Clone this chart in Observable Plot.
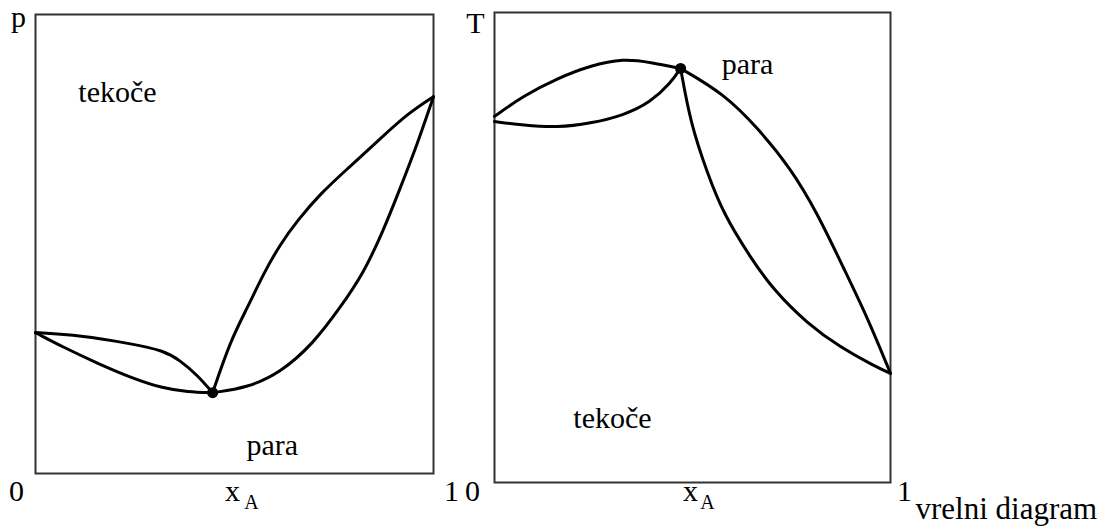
<!DOCTYPE html>
<html>
<head>
<meta charset="utf-8">
<script src="https://cdn.jsdelivr.net/npm/d3@7"></script>
<script src="https://cdn.jsdelivr.net/npm/@observablehq/plot@0.6"></script>
<style>
  body { margin: 0; background: #fff; }
  #chart { position: relative; width: 1106px; height: 526px; }
  #chart svg { position: absolute; top: 0; }
</style>
</head>
<body>
<div id="chart"></div>
<script>
// ---- p–x diagram (left): pressure vs mole fraction x_A, minimum-pressure azeotrope ----
// [x_A, p] pairs on a relative 0–100 pressure scale
const pBubbleA = [[0, 30.7], [0.113, 30.1], [0.239, 28.3], [0.322, 26.8], [0.364, 24.6], [0.407, 21.4], [0.445, 17.6]];
const pDewA    = [[0, 30.7], [0.070, 27.5], [0.156, 24.0], [0.239, 20.9], [0.322, 18.5], [0.382, 17.8], [0.445, 17.6]];
const pBubbleB = [[0.445, 17.6], [0.490, 29.0], [0.533, 36.2], [0.573, 43.6], [0.616, 50.1], [0.658, 55.1], [0.716, 61.0], [0.784, 66.4], [0.867, 73.0], [0.935, 78.4], [1, 82.1]];
const pDewB    = [[0.445, 17.6], [0.533, 18.7], [0.616, 22.0], [0.698, 28.3], [0.766, 36.2], [0.824, 43.6], [0.874, 52.9], [0.917, 62.3], [0.960, 71.9], [1, 82.1]];
const pAzeotrope = [[0.445, 17.6]];
// region labels: [x_A, p, text]
const pRegions = [[0.206, 81.0, "tekoče"], [0.595, 4.1, "para"]];

// ---- T–x diagram (right): boiling diagram, maximum-temperature azeotrope ----
const tDewA     = [[0, 77.9], [0.073, 82.3], [0.159, 86.0], [0.242, 88.7], [0.326, 90.2], [0.394, 89.4], [0.470, 88.1]];
const tBubbleA  = [[0, 76.8], [0.073, 76.0], [0.159, 75.5], [0.242, 76.4], [0.326, 78.1], [0.394, 80.9], [0.444, 84.9], [0.470, 88.1]];
const tBubbleB  = [[0.470, 88.1], [0.495, 76.4], [0.538, 65.7], [0.578, 57.2], [0.646, 47.9], [0.705, 40.9], [0.790, 33.8], [0.874, 28.7], [0.957, 24.9], [1, 23.2]];
const tDewB     = [[0.470, 88.1], [0.578, 82.8], [0.664, 75.5], [0.747, 67.0], [0.816, 57.2], [0.881, 45.7], [0.942, 35.1], [1, 23.2]];
const tAzeotrope = [[0.470, 88.1]];
const tRegions = [[0.639, 87.0, "para"], [0.298, 11.7, "tekoče"]];

const font = "Liberation Serif, Times New Roman, serif";
const X = d => d[0], Y = d => d[1];

function curve(data) {
  return Plot.line(data, {x: X, y: Y, curve: "basis", stroke: "#000", strokeWidth: 3});
}

// axis and caption text placed relative to the frame
function label(text, frameAnchor, dx, dy, size = 30) {
  return Plot.text([text], {
    text: d => d, frameAnchor, dx, dy, fontSize: size, fontFamily: font,
    textAnchor: "middle", lineAnchor: "bottom", fill: "#000"
  });
}

function regionLabels(data) {
  return Plot.text(data, {x: X, y: Y, text: d => d[2], fontSize: 30, fontFamily: font,
    textAnchor: "middle", lineAnchor: "bottom", fill: "#000"});
}

const base = {
  x: {domain: [0, 1], axis: null},
  y: {domain: [0, 100], axis: null},
  style: {background: "transparent", overflow: "visible", fontFamily: font}
};

const left = Plot.plot({
  ...base,
  width: 460, height: 526,
  marginLeft: 35, marginRight: 27, marginTop: 14, marginBottom: 53,
  marks: [
    Plot.frame({stroke: "#333", strokeWidth: 2}),
    curve(pBubbleA), curve(pDewA), curve(pBubbleB), curve(pDewB),
    Plot.dot(pAzeotrope, {x: X, y: Y, r: 5.5, fill: "#000"}),
    regionLabels(pRegions),
    label("p", "top-left", -17, 12.5),
    label("0", "bottom-left", -19, 27),
    label("1", "bottom-right", 18, 27),
    label("x", "bottom", -2, 27),
    label("A", "bottom", 17, 35, 20)
  ]
});
left.style.left = "0px";

const right = Plot.plot({
  ...base,
  width: 646, height: 526,
  marginLeft: 34, marginRight: 216, marginTop: 12, marginBottom: 44,
  marks: [
    Plot.frame({stroke: "#333", strokeWidth: 2}),
    curve(tDewA), curve(tBubbleA), curve(tBubbleB), curve(tDewB),
    Plot.dot(tAzeotrope, {x: X, y: Y, r: 5.5, fill: "#000"}),
    regionLabels(tRegions),
    label("T", "top-left", -19, 20),
    label("0", "bottom-left", -22, 18),
    label("1", "bottom-right", 14, 18),
    label("x", "bottom", -2, 18),
    label("A", "bottom", 15, 26, 20),
    Plot.text(["vrelni diagram"], {text: d => d, frameAnchor: "bottom-right", dx: 25, dy: 36,
      fontSize: 31, fontFamily: font, textAnchor: "start", lineAnchor: "bottom", fill: "#000"})
  ]
});
right.style.left = "460px";

const chart = document.getElementById("chart");
chart.append(left, right);
</script>
</body>
</html>
